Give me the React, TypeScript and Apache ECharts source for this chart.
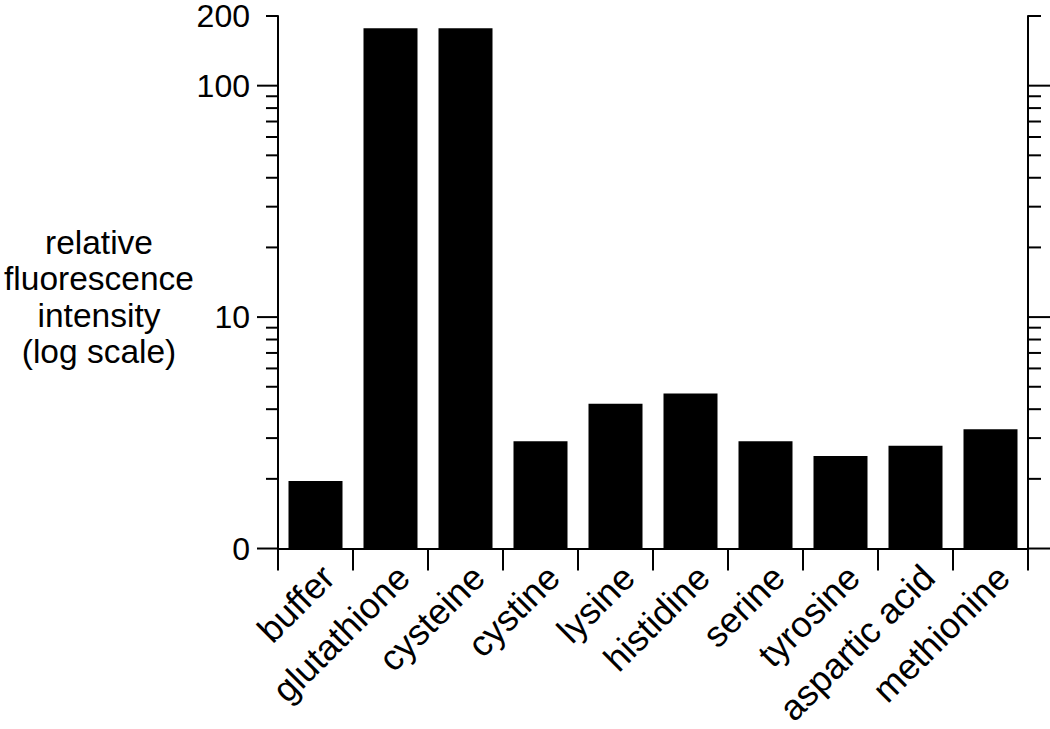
import React, { useEffect, useRef } from 'react';
import * as echarts from 'echarts';

const categories = ['buffer', 'glutathione', 'cysteine', 'cystine', 'lysine', 'histidine', 'serine', 'tyrosine', 'aspartic acid', 'methionine'];
const intensities = [1.96, 177, 177, 2.91, 4.22, 4.68, 2.91, 2.51, 2.78, 3.28];
const yMin = 1;
const yMax = 200;
const majorTickValues = [1, 10, 100];
const minorTickValues = [2, 3, 4, 5, 6, 7, 8, 9, 20, 30, 40, 50, 60, 70, 80, 90, 200];
const yTickLabels: Record<number, string> = { 1: '0', 10: '10', 100: '100', 200: '200' };
const yAxisTitle = ['relative', 'fluorescence', 'intensity', '(log scale)'];

const FONT = '"Liberation Sans", Arial, Helvetica, sans-serif';

const tickRenderer = (len: number) => (params: any, api: any) => {
  const cs = params.coordSys;
  const y = api.coord([0, api.value(1)])[1];
  return {
    type: 'group',
    children: [
      { type: 'line', shape: { x1: cs.x - len, y1: y, x2: cs.x, y2: y }, style: { stroke: '#000', lineWidth: 2 } },
      { type: 'line', shape: { x1: cs.x + cs.width, y1: y, x2: cs.x + cs.width + len + 1, y2: y }, style: { stroke: '#000', lineWidth: 2 } },
    ],
  };
};

export default function App() {
  const ref = useRef<HTMLDivElement>(null);
  useEffect(() => {
    if (!ref.current) return;
    const chart = echarts.init(ref.current, null, { renderer: 'svg' });
    chart.setOption({
      animation: false,
      backgroundColor: '#fff',
      grid: { left: 278, right: 22, top: 14, bottom: 178 },
      graphic: [
        {
          type: 'text',
          x: 99,
          y: 297,
          style: {
            text: yAxisTitle.join('\n'),
            font: `33.5px ${FONT}`,
            fill: '#000',
            align: 'center',
            verticalAlign: 'middle',
            lineHeight: 36.5,
          },
        },
      ],
      xAxis: {
        type: 'category',
        data: categories,
        axisLine: { lineStyle: { color: '#000', width: 2 } },
        axisTick: { show: true, length: 22, interval: 0, lineStyle: { color: '#000', width: 2 } },
        axisLabel: {
          interval: 0,
          rotate: 45,
          margin: 10,
          verticalAlign: 'top',
          color: '#000',
          fontSize: 36,
          fontFamily: FONT,
        },
        splitLine: { show: false },
      },
      yAxis: [
        {
          type: 'log',
          logBase: 10,
          min: yMin,
          max: yMax,
          position: 'left',
          axisLine: { show: true, lineStyle: { color: '#000', width: 2 } },
          axisTick: { show: false },
          splitLine: { show: false },
          axisLabel: {
            margin: 28,
            color: '#000',
            fontSize: 32,
            lineHeight: 26,
            fontFamily: FONT,
            formatter: (v: number) => yTickLabels[Math.round(v)] ?? String(Math.round(v)),
          },
        },
        {
          type: 'log',
          logBase: 10,
          min: yMin,
          max: yMax,
          position: 'right',
          axisLine: { show: true, lineStyle: { color: '#000', width: 2 } },
          axisTick: { show: false },
          splitLine: { show: false },
          axisLabel: { show: false },
        },
      ],
      series: [
        {
          type: 'bar',
          data: intensities,
          barWidth: 54,
          itemStyle: { color: '#000' },
          yAxisIndex: 0,
        },
        {
          type: 'custom',
          yAxisIndex: 0,
          renderItem: tickRenderer(21),
          data: majorTickValues.map((v) => [0, v]),
          silent: true,
          z: 5,
        },
        {
          type: 'custom',
          yAxisIndex: 0,
          renderItem: tickRenderer(12),
          data: minorTickValues.map((v) => [0, v]),
          silent: true,
          z: 5,
        },
      ],
    });
    return () => chart.dispose();
  }, []);
  return <div ref={ref} style={{ position: 'fixed', left: 0, top: 0, width: 1050, height: 729 }} />;
}
